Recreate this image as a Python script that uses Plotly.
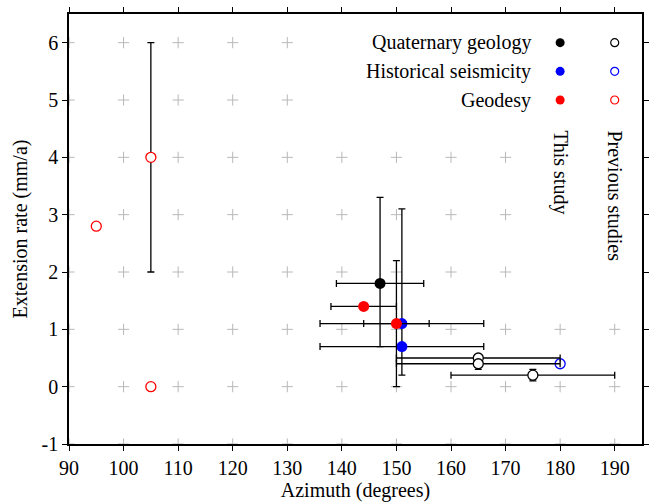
import numpy as np
import plotly.graph_objects as go

FONT = "Liberation Serif, Times New Roman, serif"

# ---------------- data ----------------
# This study (filled symbols)
qg_this_x = [147]
qg_this_y = [1.8]
qg_this_xerr = [8]
qg_this_yerr_plus = [1.5]
qg_this_yerr_minus = [1.1]

hs_this_x = [151, 151]
hs_this_y = [1.1, 0.7]
hs_this_xerr = [15, 15]
hs_this_yerr_plus = [2.0, 0.0]
hs_this_yerr_minus = [0.9, 0.0]

g_this_x = [144, 150]
g_this_y = [1.4, 1.1]
g_this_xerr = [6, 6]
g_this_yerr = [0.0, 1.1]

# Previous studies (open symbols)
qg_prev_x = [165, 165, 175]
qg_prev_y = [0.5, 0.4, 0.2]
qg_prev_xerr = [15, 15, 15]
qg_prev_yerr = [0.0, 0.1, 0.1]

hs_prev_x = [180]
hs_prev_y = [0.4]

g_prev_x = [95, 105, 105]
g_prev_y = [2.8, 4.0, 0.0]
g_prev_yerr = [0.0, 2.0, 0.0]

legend_labels = ["Quaternary geology", "Historical seismicity", "Geodesy"]
legend_colors = ["black", "blue", "red"]
legend_rows_y = [6.0, 5.5, 5.0]
legend_col_this = 180
legend_col_prev = 190
legend_text_x = 175

x_ticks = list(range(90, 200, 10))
x_ticktext = [str(v) for v in x_ticks]
y_ticks = list(range(-1, 7))
y_ticktext = ["-1", "0", "1", "2", "3", "4", "5", "6"]

# --------------------------------------
FS = 20
ERR = dict(color="black", thickness=1.3, width=3.5)

fig = go.Figure()

# background grid crosses
gx, gy = np.meshgrid(np.arange(90, 191, 10), np.arange(-1, 7, 1))
gx = gx.ravel(); gy = gy.ravel()
keep = ~(((gx >= 140) & (gy >= 5)) | ((gx >= 180) & (gy >= 2)))
fig.add_trace(go.Scatter(
    x=gx[keep], y=gy[keep], mode="markers", hoverinfo="skip",
    marker=dict(symbol="cross-thin", size=8, line=dict(color="#b8b8b8", width=1)),
    showlegend=False))

def add(x, y, color, filled, ex=None, exm=None, ey=None, eym=None):
    tr = dict(x=x, y=y, mode="markers", showlegend=False)
    if filled:
        tr["marker"] = dict(symbol="circle", size=11, color=color, line=dict(width=0))
    else:
        tr["marker"] = dict(symbol="circle", size=10, color="white",
                            line=dict(color=color, width=1.3))
    if ex is not None:
        d = dict(type="data", array=ex, visible=True, **ERR)
        if exm is not None:
            d["symmetric"] = False
            d["arrayminus"] = exm
        tr["error_x"] = d
    if ey is not None:
        d = dict(type="data", array=ey, visible=True, **ERR)
        if eym is not None:
            d["symmetric"] = False
            d["arrayminus"] = eym
        tr["error_y"] = d
    fig.add_trace(go.Scatter(**tr))

# previous studies
add(g_prev_x, g_prev_y, "red", False, ey=g_prev_yerr)
add(hs_prev_x, hs_prev_y, "blue", False)
add(qg_prev_x, qg_prev_y, "black", False, ex=qg_prev_xerr, ey=qg_prev_yerr)
# this study
add(qg_this_x, qg_this_y, "black", True, ex=qg_this_xerr,
    ey=qg_this_yerr_plus, eym=qg_this_yerr_minus)
add(hs_this_x, hs_this_y, "blue", True, ex=hs_this_xerr,
    ey=hs_this_yerr_plus, eym=hs_this_yerr_minus)
add(g_this_x, g_this_y, "red", True, ex=g_this_xerr, ey=g_this_yerr)

# custom key
fig.add_trace(go.Scatter(
    x=[legend_col_this] * 3, y=legend_rows_y, mode="markers", hoverinfo="skip",
    marker=dict(symbol="circle", size=9, color=legend_colors, line=dict(width=0)),
    showlegend=False))
fig.add_trace(go.Scatter(
    x=[legend_col_prev] * 3, y=legend_rows_y, mode="markers", hoverinfo="skip",
    marker=dict(symbol="circle", size=8, color="white",
                line=dict(color=legend_colors, width=1.2)),
    showlegend=False))
for lab, yy in zip(legend_labels, legend_rows_y):
    fig.add_annotation(x=legend_text_x, y=yy, text=lab, showarrow=False,
                       xanchor="right", yanchor="middle",
                       font=dict(family=FONT, size=FS, color="black"))
fig.add_annotation(x=legend_col_this, y=4.5, text="This study", showarrow=False,
                   textangle=90, xanchor="center", yanchor="top",
                   font=dict(family=FONT, size=FS, color="black"))
fig.add_annotation(x=legend_col_prev, y=4.5, text="Previous studies", showarrow=False,
                   textangle=90, xanchor="center", yanchor="top",
                   font=dict(family=FONT, size=FS, color="black"))

axis_common = dict(showgrid=False, zeroline=False, showline=True, linecolor="black",
                   linewidth=1.5, mirror="ticks", ticks="outside", ticklen=5,
                   tickwidth=1.2, tickcolor="black", automargin=False,
                   tickfont=dict(family=FONT, size=FS, color="black"))
fig.update_xaxes(range=[90, 195], tickvals=x_ticks, ticktext=x_ticktext,
                 title=dict(text="Azimuth (degrees)", standoff=2,
                            font=dict(family=FONT, size=FS, color="black")),
                 **axis_common)
fig.update_yaxes(range=[-1, 6.5], tickvals=y_ticks, ticktext=y_ticktext,
                 title=dict(text="Extension rate (mm/a)", standoff=9,
                            font=dict(family=FONT, size=FS, color="black")),
                 **axis_common)
fig.update_layout(width=649, height=502, plot_bgcolor="white", paper_bgcolor="white",
                  margin=dict(l=69, r=7, t=14, b=58), showlegend=False)

fig.write_html("out.html")
